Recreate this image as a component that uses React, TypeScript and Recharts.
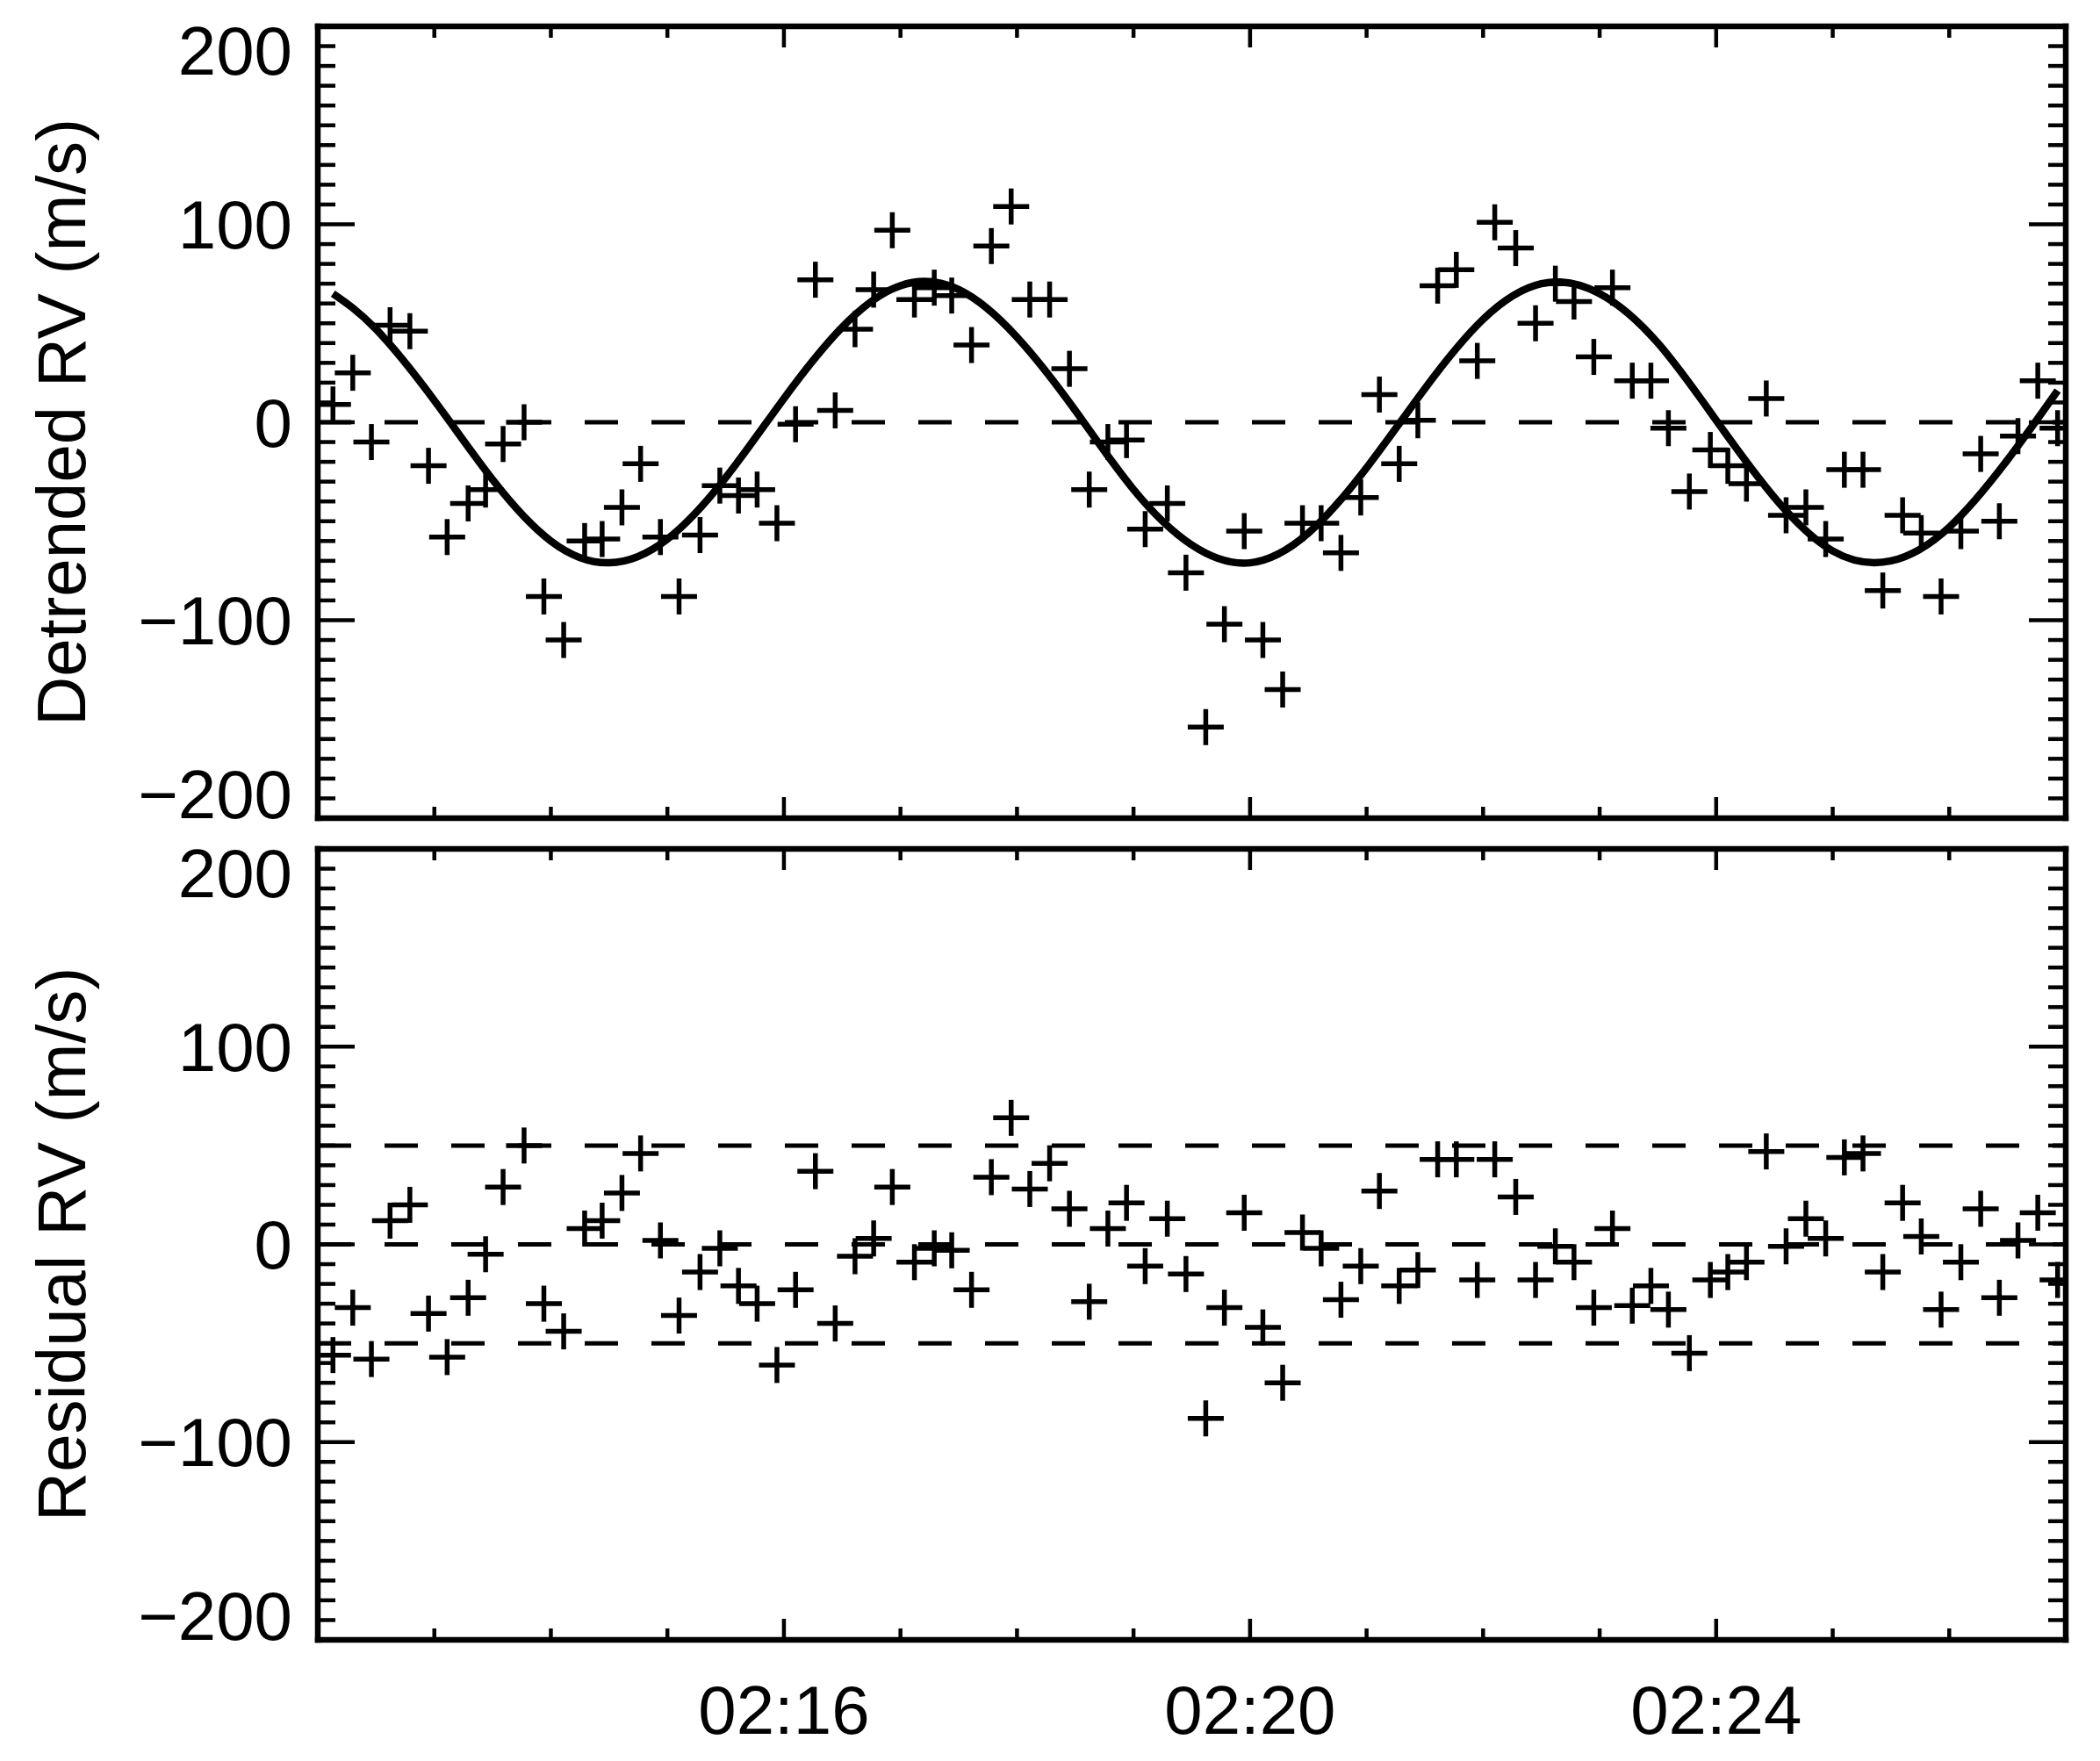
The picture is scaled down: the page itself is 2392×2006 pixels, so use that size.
import React from 'react';
import { ComposedChart, XAxis, YAxis, Scatter, Line, ReferenceLine } from 'recharts';

// ---- data (minutes after 02:00) ----
const times = [
  12.13, 12.30, 12.46, 12.62, 12.79, 12.95, 13.11, 13.29, 13.44, 13.59,
  13.77, 13.94, 14.11, 14.29, 14.44, 14.61, 14.77, 14.94, 15.10, 15.28,
  15.45, 15.61, 15.77, 15.94, 16.10, 16.27, 16.44, 16.61, 16.77, 16.93,
  17.12, 17.29, 17.44, 17.61, 17.78, 17.95, 18.11, 18.28, 18.45, 18.62,
  18.78, 18.94, 19.10, 19.29, 19.45, 19.62, 19.78, 19.95, 20.11, 20.28,
  20.45, 20.61, 20.78, 20.95, 21.11, 21.28, 21.44, 21.61, 21.77, 21.95,
  22.10, 22.28, 22.45, 22.62, 22.78, 22.95, 23.11, 23.28, 23.44, 23.59,
  23.77, 23.95, 24.10, 24.26, 24.43, 24.60, 24.77, 24.94, 25.10, 25.26,
  25.43, 25.60, 25.76, 25.93, 26.10, 26.27, 26.43, 26.59, 26.76, 26.93,
];

const detrendedRV = [
  9, 25, -10, 49, 46, -22, -58, -41, -34, -11,
  0, -88, -110, -60, -59, -43, -21, -58, -88, -57,
  -32, -37, -34, -51, -1, 72, 6, 47, 67, 97,
  62, 68, 64, 39, 89, 109, 62, 62, 27, -34,
  -10, -9, -54, -41, -76, -154, -102, -55, -110, -135,
  -51, -51, -66, -38, 14, -21, 1, 69, 77, 31,
  101, 88, 50, 70, 61, 33, 68, 21, 21, -3,
  -35, -14, -22, -31, 12, -47, -43, -59, -24, -24,
  -85, -47, -56, -88, -55, -16, -50, -7, 21, -3,
];

const residualRV = [
  -56, -32, -58, 12, 20, -35, -57, -27, -5, 29,
  50, -30, -44, 8, 12, 26, 46, 2, -36, -14,
  -2, -21, -30, -61, -23, 37, -40, -6, 3, 29,
  -9, -2, -3, -23, 34, 64, 28, 41, 18, -29,
  8, 21, -11, 13, -15, -88, -32, 16, -42, -70,
  6, -2, -28, -11, 27, -21, -13, 43, 43, -18,
  43, 24, -18, -1, -9, -32, 8, -31, -21, -33,
  -55, -18, -14, -9, 47, -1, 13, 3, 44, 46,
  -14, 21, 4, -33, -9, 18, -27, 2, 16, -18,
];

const fitTimes = [
  12.13, 12.5, 13, 13.5, 14, 14.5, 15, 15.5, 16, 16.5, 17, 17.5, 18, 18.5, 19, 19.5,
  20, 20.5, 21, 21.5, 22, 22.5, 23, 23.5, 24, 24.5, 25, 25.5, 26, 26.5, 26.93,
];
const fitRV = [
  65, 47, 11, -29, -60, -71, -59, -28, 12, 48, 69, 67, 43, 6, -34, -62,
  -71, -56, -23, 17, 52, 70, 65, 40, 1, -38, -65, -70, -53, -19, 16,
];

const xMinuteTicks = [12, 13, 14, 15, 16, 17, 18, 19, 20, 21, 22, 23, 24, 25, 26, 27];
const xMajorMinutes = [12, 16, 20, 24];
const xLabelMinutes = [16, 20, 24];
const xLabelTexts = ['02:16', '02:20', '02:24'];
const yTicks = Array.from({ length: 41 }, (_, i) => -200 + i * 10);
const yLabelValues = [200, 100, 0, -100, -200];
const yLabelTexts = ['200', '100', '0', '\u2212100', '\u2212200'];
const detrendedBands = [0];
const residualBands = [50, 0, -50];

const detrendedPoints = times.map((t, i) => ({ t, v: detrendedRV[i] }));
const residualPoints = times.map((t, i) => ({ t, v: residualRV[i] }));
const fitPoints = fitTimes.map((t, i) => ({ t, v: fitRV[i] }));

// ---- style ----
const W = 2392;
const FONT = '"Liberation Sans", Arial, Helvetica, sans-serif';
const FS = 78;
const INK = '#000';
const FRAME = { stroke: INK, strokeWidth: 6.5, strokeLinecap: 'square' as const };

const makeBottomTick = (showLabels: boolean) => (props: any) => {
  const { x, y, payload } = props;
  const v = payload.value;
  const major = xMajorMinutes.indexOf(v) >= 0;
  const li = xLabelMinutes.indexOf(v);
  return (
    <g>
      <line x1={x} x2={x} y1={y} y2={y - (major ? 24 : 13)} stroke={INK} strokeWidth={4.5} />
      {showLabels && li >= 0 && (
        <text x={x} y={y + 107} textAnchor="middle" fontSize={FS} fontFamily={FONT} fill={INK}>
          {xLabelTexts[li]}
        </text>
      )}
    </g>
  );
};

const TopTick = (props: any) => {
  const { x, y, payload } = props;
  const major = xMajorMinutes.indexOf(payload.value) >= 0;
  return <line x1={x} x2={x} y1={y} y2={y + (major ? 24 : 13)} stroke={INK} strokeWidth={4.5} />;
};

const LeftTick = (props: any) => {
  const { x, y, payload } = props;
  const v = payload.value;
  const li = yLabelValues.indexOf(v);
  const major = li >= 0;
  const base = v === 200 ? y + 55 : v === -200 ? y : y + 27.5;
  return (
    <g>
      <line x1={x} x2={x + (major ? 42 : 20)} y1={y} y2={y} stroke={INK} strokeWidth={4.5} />
      {major && (
        <text x={x - 29} y={base} textAnchor="end" fontSize={FS} fontFamily={FONT} fill={INK}>
          {yLabelTexts[li]}
        </text>
      )}
    </g>
  );
};

const RightTick = (props: any) => {
  const { x, y, payload } = props;
  const major = yLabelValues.indexOf(payload.value) >= 0;
  return <line x1={x} x2={x - (major ? 42 : 20)} y1={y} y2={y} stroke={INK} strokeWidth={4.5} />;
};

const Plus = (props: any) => {
  const { cx, cy } = props;
  if (cx == null || cy == null) return null;
  const h = 20.5;
  return (
    <g>
      <line x1={cx - h} x2={cx + h} y1={cy} y2={cy} stroke={INK} strokeWidth={5.5} />
      <line x1={cx} x2={cx} y1={cy - h} y2={cy + h} stroke={INK} strokeWidth={5.5} />
    </g>
  );
};

const yAxisLabel = (text: string) => ({
  content: (props: any) => {
    const vb = props.viewBox || {};
    const cy = (vb.y || 0) + (vb.height || 0) / 2;
    const lx = 97;
    return (
      <text
        x={lx}
        y={cy}
        transform={`rotate(-90, ${lx}, ${cy})`}
        textAnchor="middle"
        fontSize={78}
        fontFamily={FONT}
        fill={INK}
      >
        {text}
      </text>
    );
  },
});

type PanelProps = {
  top: number;
  height: number;
  topAxisH: number;
  bottomAxisH: number;
  points: { t: number; v: number }[];
  fit?: { t: number; v: number }[];
  bands: number[];
  label: string;
  showXLabels: boolean;
};

function Panel({ top, height, topAxisH, bottomAxisH, points, fit, bands, label, showXLabels }: PanelProps) {
  return (
    <div style={{ position: 'absolute', left: 0, top, width: W, height }}>
      <ComposedChart width={W} height={height} margin={{ top: 0, right: 0, bottom: 0, left: 0 }}>
        <XAxis
          xAxisId="b"
          type="number"
          dataKey="t"
          domain={[12, 27]}
          ticks={xMinuteTicks}
          interval={0}
          orientation="bottom"
          height={bottomAxisH}
          tickSize={0}
          tickMargin={0}
          tickLine={false}
          axisLine={FRAME}
          tick={makeBottomTick(showXLabels)}
          allowDataOverflow
        />
        <XAxis
          xAxisId="t"
          type="number"
          dataKey="t"
          domain={[12, 27]}
          ticks={xMinuteTicks}
          interval={0}
          orientation="top"
          height={topAxisH}
          tickSize={0}
          tickMargin={0}
          tickLine={false}
          axisLine={FRAME}
          tick={TopTick}
          allowDataOverflow
        />
        <YAxis
          yAxisId="l"
          type="number"
          dataKey="v"
          domain={[-200, 200]}
          ticks={yTicks}
          interval={0}
          orientation="left"
          width={362}
          tickSize={0}
          tickMargin={0}
          tickLine={false}
          axisLine={FRAME}
          tick={LeftTick}
          label={yAxisLabel(label)}
          allowDataOverflow
        />
        <YAxis
          yAxisId="r"
          type="number"
          domain={[-200, 200]}
          ticks={yTicks}
          interval={0}
          orientation="right"
          width={39}
          tickSize={0}
          tickMargin={0}
          tickLine={false}
          axisLine={FRAME}
          tick={RightTick}
          allowDataOverflow
        />
        {bands.map((b) => (
          <ReferenceLine
            key={b}
            xAxisId="b"
            yAxisId="l"
            y={b}
            stroke={INK}
            strokeWidth={5}
            strokeDasharray="38 38"
          />
        ))}
        <Scatter
          xAxisId="b"
          yAxisId="l"
          data={points}
          dataKey="v"
          shape={(p: any) => <Plus {...p} />}
          isAnimationActive={false}
        />
        {fit && (
          <Line
            xAxisId="b"
            yAxisId="l"
            data={fit}
            dataKey="v"
            type="natural"
            stroke={INK}
            strokeWidth={8.5}
            dot={false}
            activeDot={false}
            isAnimationActive={false}
          />
        )}
      </ComposedChart>
    </div>
  );
}

export default function App() {
  return (
    <div style={{ position: 'absolute', left: 0, top: 0, width: W, height: 2006, background: '#fff' }}>
      <Panel
        top={0}
        height={950}
        topAxisH={30}
        bottomAxisH={18}
        points={detrendedPoints}
        fit={fitPoints}
        bands={detrendedBands}
        label="Detrended RV (m/s)"
        showXLabels={false}
      />
      <Panel
        top={950}
        height={1056}
        topAxisH={17}
        bottomAxisH={138}
        points={residualPoints}
        bands={residualBands}
        label="Residual RV (m/s)"
        showXLabels={true}
      />
    </div>
  );
}
